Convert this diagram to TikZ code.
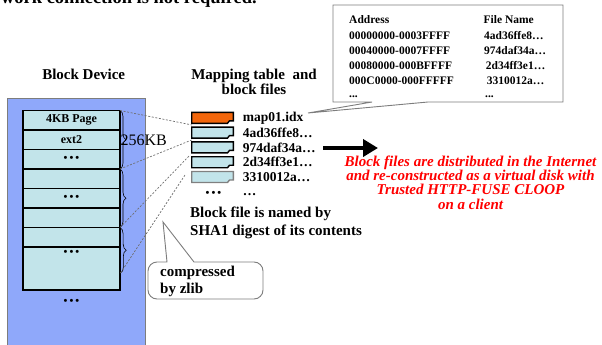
\documentclass[tikz,border=0pt]{standalone}
\usepackage{fontspec}
\setmainfont{Liberation Serif}
\usetikzlibrary{decorations.pathreplacing,arrows.meta}
\definecolor{devblue}{RGB}{143,168,250}
\definecolor{pagecyan}{RGB}{194,228,234}
\definecolor{maporange}{RGB}{242,102,12}
\definecolor{callgray}{RGB}{125,125,125}
\definecolor{dashgray}{RGB}{110,110,110}
\newcommand{\fs}[2]{\fontsize{#1}{#2}\selectfont}
\newcommand{\bdots}{•\hspace{2pt}•\hspace{2pt}•}
\begin{document}
\begin{tikzpicture}[x=1pt,y=-1pt,
  pagerow/.style={draw=black, line width=1.8pt, fill=pagecyan, minimum width=97pt,
    inner sep=0pt, outer sep=0pt, font=\fs{12}{14}\bfseries},
  bracestyle/.style={decorate, decoration={brace, amplitude=6pt}, line width=0.6pt, black},
  dashline/.style={draw=dashgray, line width=0.7pt, dash pattern=on 2pt off 1.6pt},
  callout/.style={draw=callgray, line width=0.9pt, fill=white},
  title/.style={font=\fs{15}{13}\bfseries, align=center},
  fname/.style={anchor=west, font=\fs{13.5}{15}\bfseries, inner sep=0pt},
  tabtext/.style={anchor=west, font=\fs{11.5}{13}\bfseries, inner sep=0pt},
  dotlabel/.style={font=\fs{11}{12}\bfseries, inner sep=0pt}
]
\useasboundingbox (0,0) rectangle (602,345);

% clipped heading at the very top
\begin{scope}
  \clip (0,0) rectangle (602,345);
  \node[anchor=base east, font=\fs{18.5}{20}\bfseries, inner sep=0pt] (head) at (257,4) {work connection is not required.};
\end{scope}

% block device
\node[title] (devtitle) at (83.7,74) {Block Device};
\node[fill=devblue, draw=callgray, line width=0.8pt, anchor=north west, minimum width=138pt,
  minimum height=260pt, inner sep=0pt] (dev) at (7,98) {};

\node[pagerow, minimum height=19.5pt] (r1) at (71.5,120.25) {4KB Page};
\node[pagerow, minimum height=19.5pt] (r2) at (71.5,139.75) {ext2};
\node[pagerow, minimum height=19.5pt, font=\fs{11}{12}\bfseries] (r3) at (71.5,159.25) {\bdots};
\node[pagerow, minimum height=19.5pt] (r4) at (71.5,178.75) {};
\node[pagerow, minimum height=19.5pt, font=\fs{11}{12}\bfseries] (r5) at (71.5,198.25) {\bdots};
\node[pagerow, minimum height=19.5pt] (r6) at (71.5,217.75) {};
\node[pagerow, minimum height=19.5pt] (r7) at (71.5,237.25) {};
\node[pagerow, minimum height=43pt] (r8) at (71.5,268.5) {};
\node[dotlabel] (d8) at (71.5,253) {\bdots};
\node[dotlabel] (dbelow) at (71.5,301.5) {\bdots};

\coordinate (b3e) at (120.5,273);
\draw[bracestyle] (r1.north east) -- (r3.south east);
\draw[bracestyle] (r4.north east) -- (r6.south east);
\draw[bracestyle] (r7.north east) -- (b3e);
\node[font=\fs{16}{18}, inner sep=0pt] (kb) at (143.7,140) {256KB};

% mapping table and block files
\node[title] (maptitle) at (254,81.5) {Mapping table\ \ and\\block files};

\newcommand{\blockfile}[2]{%
  \draw[#2] (191.7,#1) -- (233.3,#1) -- (233.3,#1+8.5) -- (229.5,#1+8.5) -- (227.5,#1+11) -- (191.7,#1+11) -- cycle;}
\blockfile{112.3}{fill=maporange, draw=black, line width=1.4pt}
\blockfile{127.1}{fill=pagecyan, draw=black, line width=1.4pt}
\blockfile{141.9}{fill=pagecyan, draw=black, line width=1.4pt}
\blockfile{156.7}{fill=pagecyan, draw=black, line width=1.4pt}
\blockfile{171.5}{fill=pagecyan, draw=gray, line width=1.4pt}

\node[fname] (n1) at (242.7,117.8) {map01.idx};
\node[fname] (n2) at (242.7,132.6) {4ad36ffe8…};
\node[fname] (n3) at (242.7,147.4) {974daf34a…};
\node[fname] (n4) at (242.7,162.2) {2d34ff3e1…};
\node[fname] (n5) at (242.7,177.0) {3310012a…};
\node[fname, anchor=base west] (n6) at (242.7,195) {…};
\node[dotlabel] (fdots) at (213.5,194) {\bdots};

% dashed connectors
\coordinate (g1) at (192,125);
\coordinate (g2) at (191.7,140);
\coordinate (g3) at (190,155);
\coordinate (g4) at (185,175);
\draw[dashline] (r1.north east) -- (g1);
\draw[dashline] (r3.south east) -- (g2);
\draw[dashline] (r6.south east) -- (g3);
\draw[dashline] (b3e) -- (g4);

\node[anchor=west, font=\fs{15}{18}\bfseries, align=left, inner sep=0pt] (sha) at (190,223)
  {Block file is named by\\SHA1 digest of its contents};

% compressed callout
\coordinate (ctip) at (163,222);
\draw[callout] (167,262) [rounded corners=9pt] -- (148,262) -- (148,299) -- (263,299) -- (263,262) [sharp corners] -- (194,262) -- (ctip) -- cycle;
\node[anchor=west, font=\fs{15}{17}\bfseries, align=left, inner sep=0pt] (zlib) at (160,281.5)
  {compressed\\by zlib};

% address table callout
\coordinate (ttip) at (308,113);
\draw[callout] (333,5) -- (563,5) -- (563,102) -- (428,102) -- (ttip) -- (372,102) -- (333,102) -- cycle;
\node[tabtext] (ta0) at (349,20) {Address};
\node[tabtext] (ta1) at (349,35.5) {00000000-0003FFFF};
\node[tabtext] (ta2) at (349,50.5) {00040000-0007FFFF};
\node[tabtext] (ta3) at (349,65.5) {00080000-000BFFFF};
\node[tabtext] (ta4) at (349,80.5) {000C0000-000FFFFF};
\node[tabtext, anchor=base west] (ta5) at (349,97) {...};
\node[tabtext] (tf0) at (483.5,20) {File Name};
\node[tabtext] (tf1) at (484,35.5) {4ad36ffe8…};
\node[tabtext] (tf2) at (484,50.5) {974daf34a…};
\node[tabtext] (tf3) at (485.7,65.5) {2d34ff3e1…};
\node[tabtext] (tf4) at (486.7,80.5) {3310012a…};
\node[tabtext, anchor=base west] (tf5) at (485,97) {...};

% arrow and red note
\coordinate (a1) at (323,148);
\coordinate (a2) at (378,148);
\draw[line width=4.6pt, -{Triangle[length=15pt,width=17pt]}] (a1) -- (a2);
\node[font=\fs{15}{14.2}\bfseries\itshape, text=red, align=center, inner sep=0pt] (note) at (470.5,182.5)
  {Block files are distributed in the Internet\\and re-constructed as a virtual disk with\\Trusted HTTP-FUSE CLOOP\\on a client};
\end{tikzpicture}
\end{document}
